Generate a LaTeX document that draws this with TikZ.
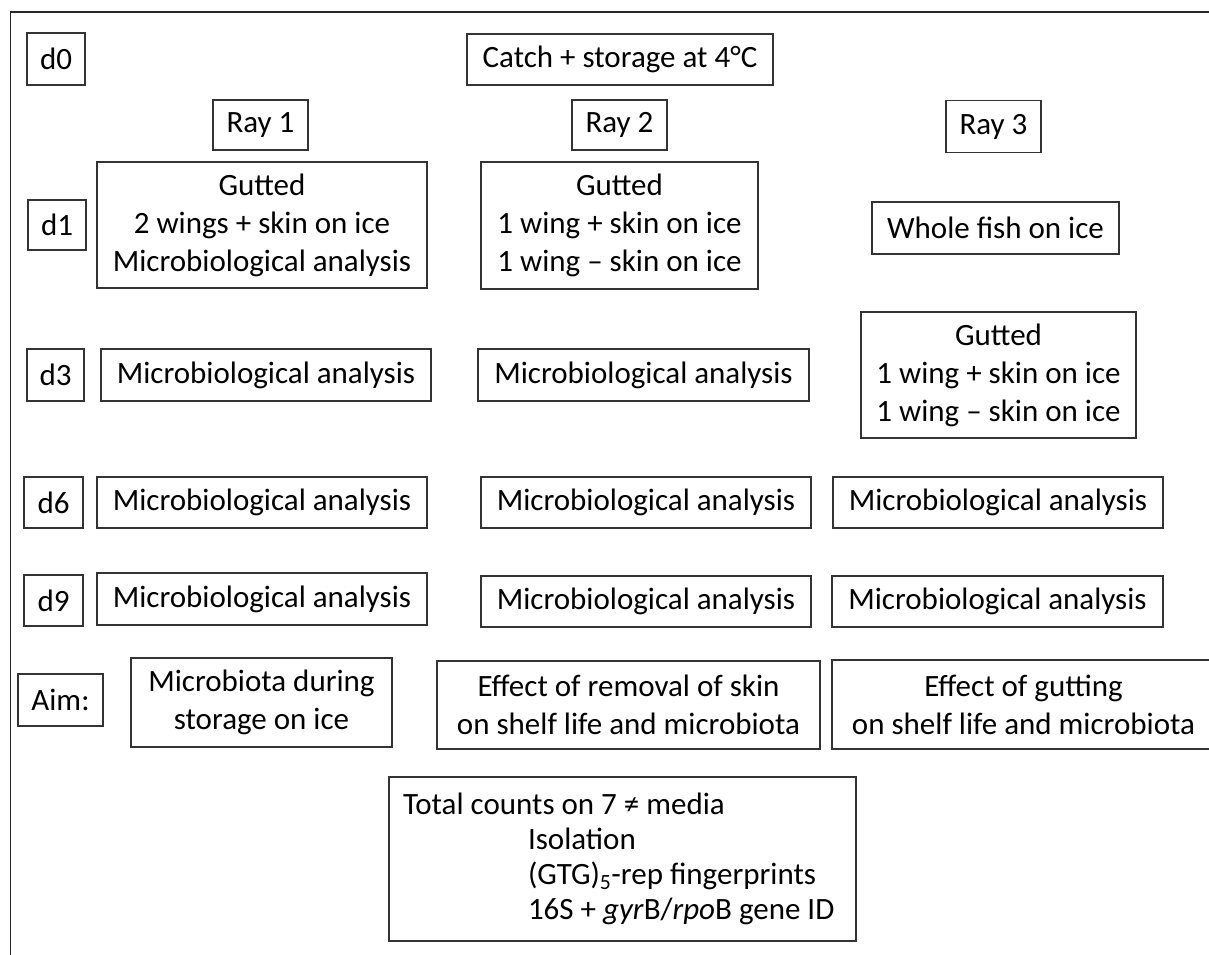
\documentclass[tikz,border=0pt]{standalone}
\usepackage{fontspec}
\setmainfont{Carlito}
\begin{document}
\begin{tikzpicture}[x=1pt,y=-1pt,
  bx/.style={draw=black!80,line width=1.3pt,inner sep=0pt,align=center,
    font=\fontsize{31}{38}\selectfont},
  frame/.style={draw=black!85,line width=1.4pt}]
\useasboundingbox (0,0) rectangle (1209,954);
\draw[frame] (10.7,960) -- (10.7,12) -- (1220,12);
% row d0
\node[bx,minimum width=58pt,minimum height=52pt] (d0) at (56,59) {d0};
\node[bx,minimum width=306pt,minimum height=51pt] (catch) at (620,59.5) {Catch + storage at 4°C};
% rays
\node[bx,minimum width=95pt,minimum height=50pt] (ray1) at (260.5,125) {Ray 1};
\node[bx,minimum width=95pt,minimum height=50pt] (ray2) at (619.5,125) {Ray 2};
\node[bx,minimum width=95pt,minimum height=52pt] (ray3) at (993.5,126.5) {Ray 3};
% d1
\node[bx,minimum width=58pt,minimum height=50pt] (d1) at (57,225) {d1};
\node[bx,minimum width=330pt,minimum height=126pt] (r1d1) at (262,225) {Gutted\\2 wings + skin on ice\\Microbiological analysis};
\node[bx,minimum width=277pt,minimum height=127pt] (r2d1) at (619.5,225.5) {Gutted\\1 wing + skin on ice\\1 wing – skin on ice};
\node[bx,minimum width=247pt,minimum height=52pt] (r3d1) at (995.5,228) {Whole fish on ice};
% d3
\node[bx,minimum width=57pt,minimum height=52pt] (d3) at (55.5,375) {d3};
\node[bx,minimum width=330pt,minimum height=52pt] (r1d3) at (266,375) {Microbiological analysis};
\node[bx,minimum width=331pt,minimum height=52pt] (r2d3) at (643.5,375) {Microbiological analysis};
\node[bx,minimum width=275pt,minimum height=126pt] (r3d3) at (998.5,375) {Gutted\\1 wing + skin on ice\\1 wing – skin on ice};
% d6
\node[bx,minimum width=59pt,minimum height=51pt] (d6) at (53.5,502.5) {d6};
\node[bx,minimum width=330pt,minimum height=51pt] (r1d6) at (262,502.5) {Microbiological analysis};
\node[bx,minimum width=330pt,minimum height=51pt] (r2d6) at (646,502.5) {Microbiological analysis};
\node[bx,minimum width=330pt,minimum height=51pt] (r3d6) at (998,502.5) {Microbiological analysis};
% d9
\node[bx,minimum width=59pt,minimum height=51pt] (d9) at (53.5,600.5) {d9};
\node[bx,minimum width=330pt,minimum height=52pt] (r1d9) at (262,599) {Microbiological analysis};
\node[bx,minimum width=330pt,minimum height=51pt] (r2d9) at (646,601.5) {Microbiological analysis};
\node[bx,minimum width=331pt,minimum height=51pt] (r3d9) at (997.5,601.5) {Microbiological analysis};
% aims
\node[bx,minimum width=85pt,minimum height=52pt] (aim) at (60.5,700) {Aim:};
\node[bx,minimum width=261pt,minimum height=89pt] (aim1) at (261.5,702.5) {Microbiota during\\storage on ice};
\node[bx,minimum width=383pt,minimum height=88pt] (aim2) at (628.5,705) {Effect of removal of skin\\on shelf life and microbiota};
\node[bx,minimum width=383pt,minimum height=89pt] (aim3) at (1023.5,704.5) {Effect of gutting\\on shelf life and microbiota};
% methods
\node[bx,align=left,text width=439pt,inner xsep=14pt,minimum height=164pt,
  font=\fontsize{31}{35}\selectfont] (total) at (622.5,859)
  {\spaceskip=0pt\xspaceskip=0pt
   \mbox{Total counts on 7 ≠ media}\\
   \mbox{\hspace*{125pt}Isolation}\\
   \mbox{\hspace*{125pt}(GTG)\textsubscript{5}-rep fingerprints}\\
   \mbox{\hspace*{125pt}16S + \textit{gyr}B/\textit{rpo}B gene ID}};
\end{tikzpicture}
\end{document}
